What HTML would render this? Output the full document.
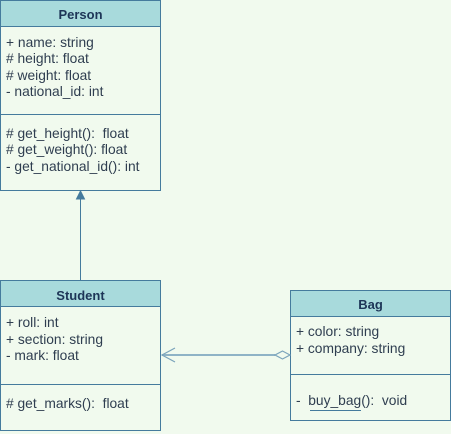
<!DOCTYPE html>
<html><head><meta charset="utf-8"><style>
html,body{margin:0;padding:0;background:#f1faee;}
svg{display:block;}
text{font-family:"Liberation Sans",Arial,sans-serif;font-size:13.8px;fill:#2f3e50;white-space:pre;}
.h{font-weight:bold;fill:#1d3557;font-size:13px;}
</style></head><body>
<svg width="451" height="434" viewBox="0 0 451 434" xmlns="http://www.w3.org/2000/svg" xml:space="preserve">
<rect width="451" height="434" fill="#f1faee"/>
<!-- Person -->
<rect x="0.5" y="0.5" width="160" height="190" fill="#f1faee" stroke="#457b9d"/>
<rect x="0.5" y="0.5" width="160" height="26" fill="#a8dadc" stroke="#457b9d"/>
<line x1="0" y1="114.5" x2="161" y2="114.5" stroke="#457b9d"/>
<text class="h" x="80.5" y="19" text-anchor="middle">Person</text>
<text x="6" y="47">+ name: string</text>
<text x="6" y="63"># height: float</text>
<text x="6" y="80"># weight: float</text>
<text x="6" y="96">- national_id: int</text>
<text x="6" y="138"># get_height():  float</text>
<text x="6" y="154"># get_weight(): float</text>
<text x="6" y="171">- get_national_id(): int</text>
<!-- inheritance -->
<line x1="80.5" y1="198" x2="80.5" y2="280" stroke="#457b9d"/>
<polygon points="80.5,191 76.5,199 84.5,199" fill="#457b9d" stroke="#457b9d"/>
<!-- Student -->
<rect x="0.5" y="280.5" width="160" height="150" fill="#f1faee" stroke="#457b9d"/>
<rect x="0.5" y="280.5" width="160" height="26" fill="#a8dadc" stroke="#457b9d"/>
<line x1="0" y1="384.5" x2="161" y2="384.5" stroke="#457b9d"/>
<text class="h" x="80.5" y="300" text-anchor="middle">Student</text>
<text x="6" y="327">+ roll: int</text>
<text x="6" y="344">+ section: string</text>
<text x="6" y="360">- mark: float</text>
<text x="6" y="408"># get_marks():  float</text>
<!-- Bag -->
<rect x="290.5" y="290.5" width="160" height="130" fill="#f1faee" stroke="#457b9d"/>
<rect x="290.5" y="290.5" width="160" height="26" fill="#a8dadc" stroke="#457b9d"/>
<line x1="290" y1="374.5" x2="451" y2="374.5" stroke="#457b9d"/>
<text class="h" x="370.5" y="309" text-anchor="middle">Bag</text>
<text x="296" y="336">+ color: string</text>
<text x="296" y="353">+ company: string</text>
<text x="296" y="405">-  buy_bag():  void</text>
<line x1="310" y1="410.5" x2="361" y2="410.5" stroke="#457b9d"/>
<!-- association -->
<line x1="162" y1="355" x2="275" y2="355" stroke="#8fb3c6" stroke-width="2"/>
<polyline points="175,348 162,355 175,362" fill="none" stroke="#7aa3bb" stroke-width="1.2"/>
<polygon points="290,355 282.5,351 275,355 282.5,359" fill="#f1faee" stroke="#7aa3bb" stroke-width="1.2"/>
</svg>
</body></html>
